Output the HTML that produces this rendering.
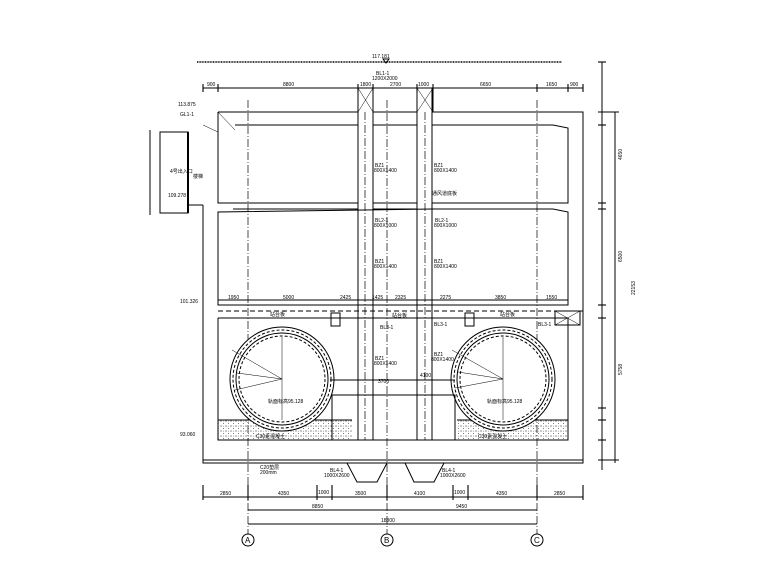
<!DOCTYPE html>
<html><head><meta charset="utf-8"><style>
html,body{margin:0;padding:0;background:#fff}
svg{display:block}
text{font-family:"Liberation Sans","Noto Sans CJK SC",sans-serif;font-size:5px;fill:#000}
</style></head><body>
<svg width="780" height="585" viewBox="0 0 780 585" xmlns="http://www.w3.org/2000/svg">
<defs>
<pattern id="dots" width="5" height="5" patternUnits="userSpaceOnUse">
<circle cx="1" cy="1" r="0.6" fill="#444"/><circle cx="3.5" cy="3.5" r="0.5" fill="#555"/><circle cx="3.5" cy="1.2" r="0.4" fill="#666"/>
</pattern>
</defs>
<g fill="none" stroke="#000" stroke-width="1">
<line x1="197" y1="62" x2="562" y2="62" stroke-width="1.6" stroke-dasharray="1 0.6"/>
<path d="M383 59 l3 4 l3 -4 z"/>
<line x1="203" y1="88" x2="583" y2="88"/>
<g stroke-width="1.1">
<line x1="203" y1="84" x2="203" y2="92"/><line x1="218" y1="84" x2="218" y2="92"/><line x1="358" y1="84" x2="358" y2="92"/><line x1="373" y1="84" x2="373" y2="92"/><line x1="417" y1="84" x2="417" y2="92"/><line x1="433" y1="84" x2="433" y2="92"/><line x1="537" y1="84" x2="537" y2="92"/><line x1="568" y1="84" x2="568" y2="92"/><line x1="583" y1="84" x2="583" y2="92"/>
</g>
<path d="M218 112 H358 V88 M373 88 V112 H417 V88 M433 88 V112 H583 V463 H203 V205"/>
<line x1="203" y1="460" x2="583" y2="460"/>
<path d="M235 125 H358 M373 125 H417 M432 125 H553 L568 128 V203 H432 M417 203 H373 M358 203 H218 V125"/>
<path d="M233 209 H358 M373 209 H417 M432 209 H553 L568 212 V305 H218 V212 Z"/>
<line x1="218" y1="112" x2="218" y2="125"/>
<line x1="218" y1="311" x2="583" y2="311" stroke-dasharray="5 3"/>
<path d="M218 318 H568 M568 318 V440 H218 V318"/>
<path d="M358 88 V440 M373 88 V440 M417 88 V440 M432 88 V440"/>
<path d="M358 88 L373 112 M373 88 L358 112 M417 88 L433 112 M433 88 L417 112" stroke-width="0.5"/>
<path d="M203 125 L218 132 M218 112 L235 130" stroke-width="0.5"/>
<rect x="331" y="313" width="9" height="13"/><rect x="465" y="313" width="9" height="13"/>
<rect x="555" y="311" width="25" height="14"/><path d="M555 311 L580 325 M580 311 L555 325" stroke-width="0.5"/>
<g stroke-width="0.7" stroke-dasharray="8 2 1 2">
<line x1="248" y1="100" x2="248" y2="534"/><line x1="387" y1="100" x2="387" y2="534"/><line x1="537" y1="100" x2="537" y2="534"/>
<line x1="365" y1="112" x2="365" y2="440"/><line x1="425" y1="112" x2="425" y2="440"/>
</g>
<path d="M160 132 H188 V213 H160 Z"/>
<line x1="188" y1="132" x2="188" y2="213" stroke-width="2"/>
<line x1="150" y1="130" x2="150" y2="215"/>
<line x1="188" y1="205" x2="203" y2="205"/>
<rect x="218" y="420" width="134" height="20" fill="url(#dots)" stroke="none"/>
<rect x="457" y="420" width="111" height="20" fill="url(#dots)" stroke="none"/>
<line x1="218" y1="420" x2="352" y2="420"/><line x1="457" y1="420" x2="568" y2="420"/>
<circle cx="282" cy="379" r="52" fill="#fff"/>
<circle cx="282" cy="379" r="49" stroke-dasharray="3 2"/>
<circle cx="282" cy="379" r="46"/>
<circle cx="282" cy="379" r="43" stroke-dasharray="3 2"/>
<circle cx="503" cy="379" r="52" fill="#fff"/>
<circle cx="503" cy="379" r="49" stroke-dasharray="3 2"/>
<circle cx="503" cy="379" r="46"/>
<circle cx="503" cy="379" r="43" stroke-dasharray="3 2"/>
<path d="M282 337 V420 M282 379 L235 390 M282 379 L237 373 M282 379 L232 350" stroke-width="0.5"/>
<path d="M503 337 V420 M503 379 L455 388 M503 379 L458 372 M503 379 L452 350" stroke-width="0.5"/>
<path d="M332 440 V395 H455 V440"/>
<line x1="330" y1="380" x2="455" y2="380"/>
<path d="M347 463 L357 482 H377 L387 463 M405 463 L414 482 H434 L444 463"/>
<line x1="602" y1="62" x2="602" y2="470"/><line x1="615" y1="112" x2="615" y2="463"/>
<g stroke-width="1.1"><line x1="598" y1="62" x2="606" y2="62"/><line x1="598" y1="112" x2="619" y2="112"/><line x1="598" y1="125" x2="606" y2="125"/><line x1="598" y1="203" x2="606" y2="203"/><line x1="598" y1="209" x2="606" y2="209"/><line x1="598" y1="305" x2="606" y2="305"/><line x1="598" y1="318" x2="606" y2="318"/><line x1="598" y1="408" x2="606" y2="408"/><line x1="598" y1="420" x2="606" y2="420"/><line x1="598" y1="440" x2="606" y2="440"/><line x1="598" y1="460" x2="619" y2="460"/></g>
<line x1="203" y1="497" x2="583" y2="497"/><line x1="248" y1="510" x2="537" y2="510"/><line x1="248" y1="524" x2="537" y2="524"/>
<g stroke-width="1.1">
<line x1="203" y1="485" x2="203" y2="500"/><line x1="248" y1="485" x2="248" y2="500"/><line x1="317" y1="485" x2="317" y2="500"/><line x1="332" y1="485" x2="332" y2="500"/><line x1="387" y1="485" x2="387" y2="500"/><line x1="453" y1="485" x2="453" y2="500"/><line x1="468" y1="485" x2="468" y2="500"/><line x1="537" y1="485" x2="537" y2="500"/><line x1="583" y1="485" x2="583" y2="500"/>
</g>
<circle cx="248" cy="540" r="6"/><circle cx="387" cy="540" r="6"/><circle cx="537" cy="540" r="6"/>
<line x1="218" y1="300" x2="568" y2="300"/>
</g>
<g>
<text x="372" y="58">117.181</text>
<text x="207" y="86">900</text><text x="283" y="86">8800</text><text x="360" y="86">1800</text><text x="390" y="86">2700</text><text x="418" y="86">1000</text><text x="480" y="86">6650</text><text x="546" y="86">1650</text><text x="570" y="86">900</text>
<text x="376" y="75">BL1-1</text><text x="372" y="80">1200X2000</text>
<text x="178" y="106">113.875</text><text x="180" y="116">GL1-1</text>
<text x="170" y="173">4号出入口</text><text x="193" y="178">楼梯</text><text x="168" y="197">109.278</text>
<text x="375" y="167">BZ1</text><text x="374" y="172">800X1400</text><text x="434" y="167">BZ1</text><text x="434" y="172">800X1400</text>
<text x="432" y="195">通风道底板</text>
<text x="375" y="222">BL2-1</text><text x="374" y="227">800X1000</text><text x="435" y="222">BL2-1</text><text x="434" y="227">800X1000</text>
<text x="375" y="263">BZ1</text><text x="374" y="268">800X1400</text><text x="434" y="263">BZ1</text><text x="434" y="268">800X1400</text>
<text x="180" y="303">101.326</text>
<text x="228" y="299">1950</text><text x="283" y="299">5000</text><text x="340" y="299">2425</text><text x="372" y="299">1425</text><text x="395" y="299">2325</text><text x="440" y="299">2275</text><text x="495" y="299">3850</text><text x="546" y="299">1550</text>
<text x="270" y="316">站台板</text><text x="392" y="317">站台板</text><text x="500" y="316">站台板</text>
<text x="380" y="329">BL3-1</text><text x="434" y="326">BL3-1</text><text x="538" y="326">BL3-1</text>
<text x="375" y="360">BZ1</text><text x="374" y="365">800X1400</text><text x="434" y="356">BZ1</text><text x="431" y="361">800X1400</text>
<text x="378" y="383">3700</text><text x="420" y="377">4100</text>
<text x="268" y="403">轨面标高95.128</text><text x="487" y="403">轨面标高95.128</text>
<text x="180" y="436">93.060</text>
<text x="256" y="438">C30素混凝土</text><text x="478" y="438">C30素混凝土</text>
<text x="260" y="469">C20垫层</text><text x="260" y="474">200mm</text>
<text x="330" y="472">BL4-1</text><text x="324" y="477">1000X2600</text>
<text x="442" y="472">BL4-1</text><text x="440" y="477">1000X2600</text>
<text x="220" y="495">2850</text><text x="278" y="495">4350</text><text x="318" y="494">1000</text><text x="355" y="495">3500</text><text x="414" y="495">4100</text><text x="454" y="494">1000</text><text x="496" y="495">4350</text><text x="554" y="495">2850</text>
<text x="312" y="508">8850</text><text x="456" y="508">9450</text><text x="381" y="522">18300</text>
<text x="245" y="543" style="font-size:8px">A</text><text x="384" y="543" style="font-size:8px">B</text><text x="534" y="543" style="font-size:8px">C</text>
<text x="622" y="160" transform="rotate(-90 622 160)">4650</text>
<text x="622" y="262" transform="rotate(-90 622 262)">6500</text>
<text x="622" y="375" transform="rotate(-90 622 375)">5758</text>
<text x="635" y="295" transform="rotate(-90 635 295)">22153</text>
</g>
</svg>
</body></html>
